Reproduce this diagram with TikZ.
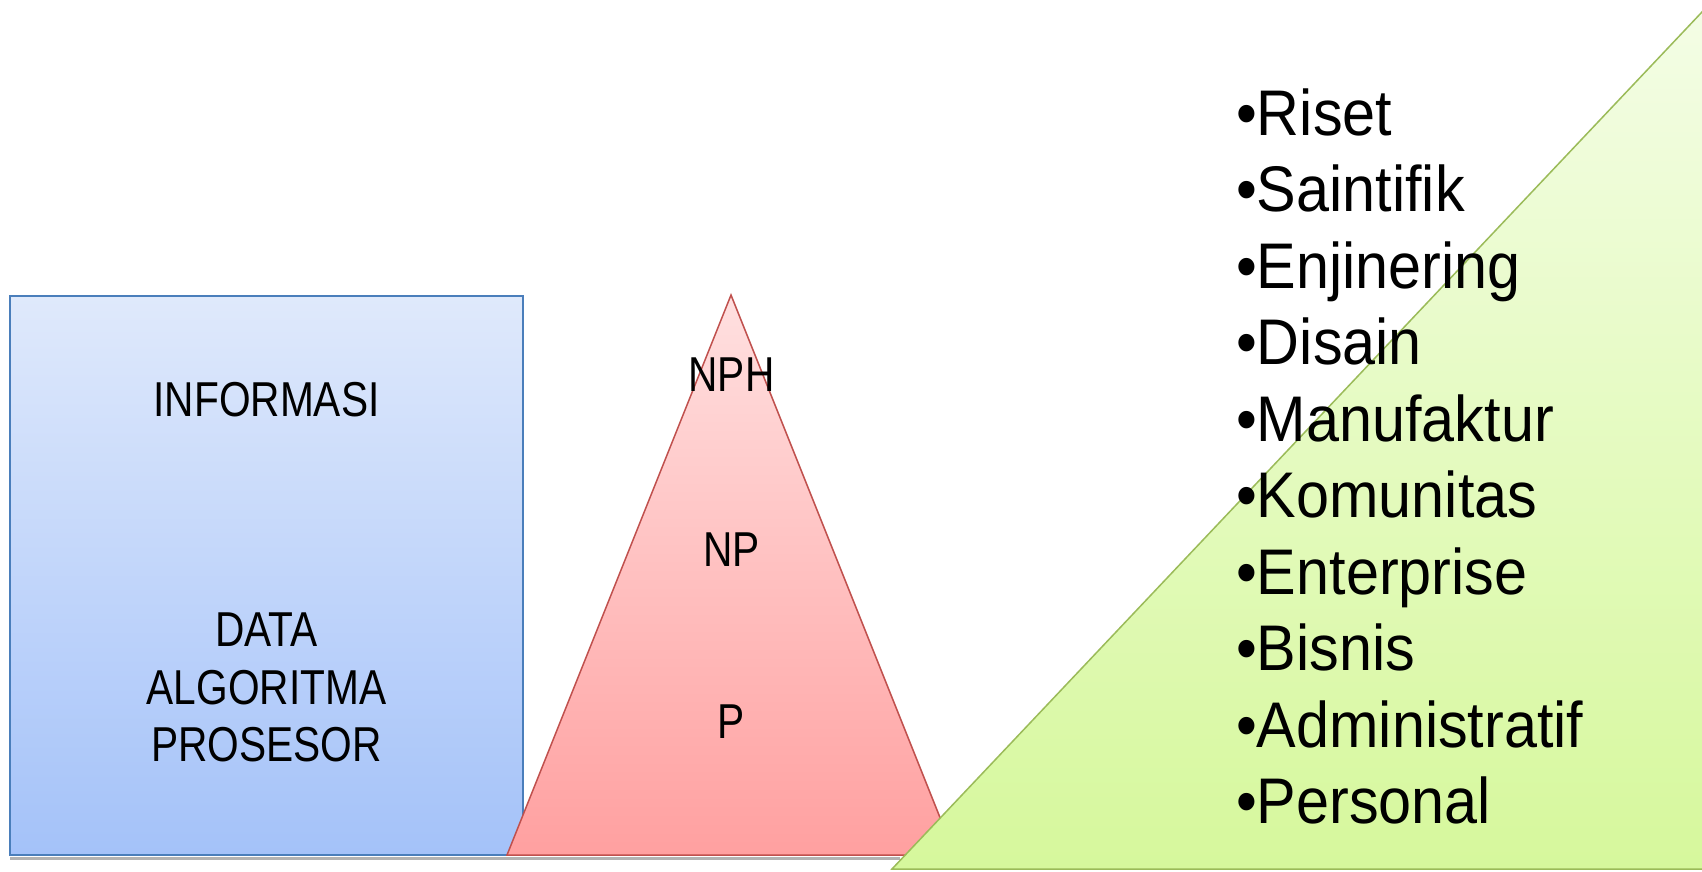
\documentclass[tikz,border=0pt]{standalone}
\usepackage{fontspec}
\setmainfont{Liberation Sans}
\newfontfamily\capfont[FakeStretch=0.83]{Liberation Sans}
\newfontfamily\listfont[FakeStretch=0.92]{Liberation Sans}
\definecolor{bluetop}{RGB}{223,233,251}
\definecolor{bluebot}{RGB}{164,194,249}
\definecolor{blueborder}{RGB}{74,126,187}
\definecolor{pinktop}{RGB}{255,224,224}
\definecolor{pinkbot}{RGB}{255,160,160}
\definecolor{pinkborder}{RGB}{192,80,77}
\definecolor{greentop}{RGB}{244,253,230}
\definecolor{greenbot}{RGB}{214,248,156}
\definecolor{greenborder}{RGB}{155,187,89}
\begin{document}
\begin{tikzpicture}[x=1pt,y=-1pt,
  lbl/.style={inner sep=0pt, anchor=base, font=\capfont\fontsize{49}{58}\selectfont},
  item/.style={inner sep=0pt, anchor=base west, font=\listfont\fontsize{64.5}{76}\selectfont},
  shape line/.style={line width=1.5pt, line join=miter}]
\useasboundingbox (0,0) rectangle (1702,871);
\clip (0,0) rectangle (1702,871);
\fill[white] (0,0) rectangle (1702,871);
% blue box
\path[shape line, draw=blueborder, top color=bluetop, bottom color=bluebot] (10,296) rectangle (523,855);
% pink triangle
\path[shape line, draw=pinkborder, top color=pinktop, bottom color=pinkbot] (731,295) -- (507,855) -- (955,855) -- cycle;
% grey base line
\draw[line width=3pt, gray!60] (10,858.5) -- (900,858.5);
% green triangle
\path[shape line, draw=greenborder, top color=greentop, bottom color=greenbot] (1712,1.4) -- (892,869) -- (1712,869) -- cycle;
% texts
\node[lbl] (info) at (266.5,416) {INFORMASI};
\node[lbl] (data) at (266.5,646) {DATA};
\node[lbl] (algo) at (266.5,704) {ALGORITMA};
\node[lbl] (pros) at (266.5,761) {PROSESOR};
\node[lbl] (nph) at (731.5,391) {NPH};
\node[lbl] (np) at (731.5,566) {NP};
\node[lbl] (p) at (731.5,738) {P};
\foreach \w [count=\i from 0] in {Riset,Saintifik,Enjinering,Disain,Manufaktur,Komunitas,Enterprise,Bisnis,Administratif,Personal}
  \node[item] (l\i) at (1236,135+76.5*\i) {•\w};
\end{tikzpicture}
\end{document}
